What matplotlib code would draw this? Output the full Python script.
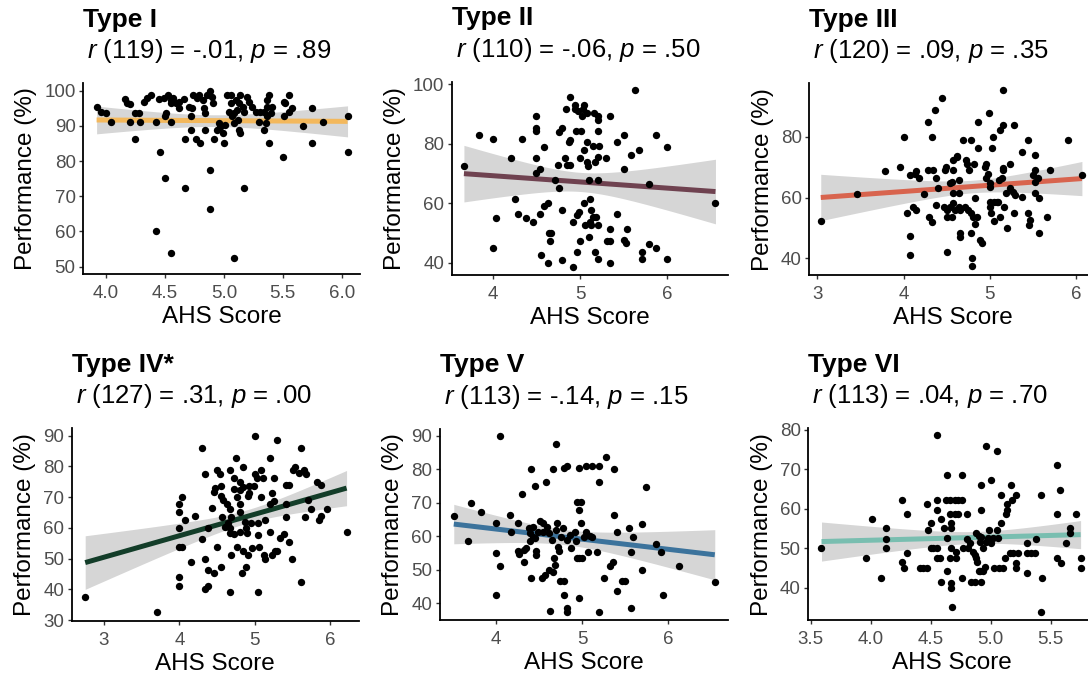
import numpy as np
import matplotlib
matplotlib.use("Agg")
import matplotlib.pyplot as plt

plt.rcParams["font.family"] = ["Liberation Sans", "DejaVu Sans"]
plt.rcParams["mathtext.fontset"] = "custom"
plt.rcParams["mathtext.it"] = "Liberation Sans:italic"
plt.rcParams["mathtext.rm"] = "Liberation Sans"

# ---------------- data ----------------
titles = ["Type I", "Type II", "Type III", "Type IV*", "Type V", "Type VI"]
df_values = [119, 110, 120, 127, 113, 113]
r_values = [-0.01, -0.06, 0.09, 0.31, -0.14, 0.04]
r_labels = ["-.01", "-.06", ".09", ".31", "-.14", ".04"]
p_labels = [".89", ".50", ".35", ".00", ".15", ".70"]
line_colors = ["#F3B85C", "#6F4250", "#D8644E", "#133D29", "#3C739C", "#79BEB0"]

x1 = [3.92, 3.96, 4.00, 4.04, 4.16, 4.18, 4.20, 4.20, 4.25, 4.25,
      4.28, 4.29, 4.32, 4.35, 4.38, 4.42, 4.42, 4.46, 4.45, 4.49,
      4.50, 4.51, 4.53, 4.55, 4.55, 4.55, 4.55, 4.57, 4.59, 4.50,
      4.62, 4.62, 4.66, 4.67, 4.67, 4.70, 4.72, 4.72, 4.73, 4.74,
      4.76, 4.77, 4.79, 4.80, 4.82, 4.83, 4.84, 4.84, 4.86, 4.88,
      4.88, 4.88, 4.90, 4.91, 4.92, 4.94, 4.96, 4.97, 4.99, 5.00,
      5.01, 5.03, 5.04, 5.06, 5.06, 5.07, 5.09, 5.09, 5.10, 5.09,
      5.11, 5.12, 5.13, 5.13, 5.14, 5.14, 5.16, 5.17, 5.17, 5.20,
      5.21, 5.24, 5.27, 5.30, 5.31, 5.34, 5.34, 5.36, 5.37, 5.37,
      5.38, 5.38, 5.40, 5.41, 5.37, 5.50, 5.51, 5.51, 5.52, 5.55,
      5.55, 5.58, 5.67, 5.75, 5.75, 5.84, 6.05, 6.05]
y1 = [95.3, 94.0, 93.8, 91.2, 97.5, 96.4, 96.1, 91.2, 93.6, 86.2,
      93.6, 91.2, 96.9, 97.8, 98.8, 91.2, 60.0, 82.7, 97.5, 97.8,
      92.7, 93.6, 98.8, 96.4, 97.3, 91.2, 53.8, 97.8, 96.4, 75.1,
      96.9, 95.0, 97.5, 86.2, 72.4, 95.5, 92.7, 88.8, 95.0, 98.8,
      86.2, 97.8, 98.8, 85.0, 97.3, 95.0, 93.6, 88.8, 98.8, 100.0,
      77.5, 66.3, 98.3, 96.4, 86.2, 88.8, 90.7, 89.8, 87.9, 85.0,
      90.2, 98.8, 94.0, 98.8, 96.4, 92.7, 93.6, 90.7, 97.3, 52.4,
      94.5, 91.7, 96.4, 88.8, 87.9, 98.8, 95.5, 94.0, 72.4, 98.3,
      96.9, 95.5, 94.0, 91.2, 94.0, 94.0, 88.8, 90.7, 97.3, 95.5,
      98.8, 85.0, 93.6, 95.5, 92.7, 81.2, 96.9, 92.7, 96.4, 98.8,
      94.0, 95.0, 90.0, 95.0, 85.0, 91.2, 92.7, 82.7]

x2 = [3.67, 3.84, 4.00, 4.00, 4.04, 4.21, 4.25, 4.29, 4.34, 4.38,
      4.46, 4.50, 4.50, 4.50, 4.50, 4.50, 4.54, 4.54, 4.55, 4.59,
      4.59, 4.63, 4.63, 4.64, 4.66, 4.67, 4.71, 4.75, 4.76, 4.76,
      4.79, 4.79, 4.79, 4.83, 4.84, 4.85, 4.87, 4.89, 4.89, 4.89,
      4.92, 4.92, 4.94, 4.94, 4.95, 4.96, 4.97, 4.98, 4.99, 5.00,
      5.00, 5.01, 5.02, 5.03, 5.04, 5.05, 5.05, 5.06, 5.08, 5.08,
      5.08, 5.09, 5.10, 5.10, 5.11, 5.11, 5.12, 5.13, 5.15, 5.15,
      5.16, 5.17, 5.17, 5.18, 5.20, 5.20, 5.21, 5.21, 5.21, 5.21,
      5.21, 5.22, 5.30, 5.31, 5.34, 5.34, 5.34, 5.34, 5.42, 5.42,
      5.50, 5.50, 5.50, 5.53, 5.54, 5.58, 5.63, 5.67, 5.71, 5.71,
      5.79, 5.79, 5.87, 5.87, 6.00, 6.00, 6.55]
y2 = [72.6, 82.8, 81.6, 44.8, 55.2, 75.2, 61.3, 56.4, 81.6, 55.2,
      53.8, 89.2, 85.3, 84.2, 75.2, 70.1, 71.5, 56.4, 42.6, 78.9,
      58.9, 60.2, 40.0, 50.1, 47.4, 50.1, 67.9, 72.7, 65.1, 83.8,
      85.3, 57.8, 41.1, 75.2, 91.7, 72.7, 80.4, 95.6, 81.3, 72.9,
      53.8, 38.7, 93.1, 91.5, 84.2, 56.1, 43.7, 90.9, 57.2, 75.2,
      47.4, 84.2, 89.2, 91.7, 60.0, 77.8, 93.1, 52.7, 90.3, 80.4,
      74.0, 72.6, 67.9, 48.8, 53.8, 61.3, 52.7, 57.8, 55.5, 79.1,
      90.3, 43.7, 74.0, 55.5, 89.2, 87.9, 84.2, 75.5, 67.9, 52.7,
      41.2, 79.1, 75.2, 47.4, 89.2, 51.2, 47.4, 40.0, 80.4, 56.4,
      82.8, 71.5, 47.6, 46.5, 51.2, 76.3, 98.0, 77.8, 43.7, 41.2,
      66.4, 46.3, 82.8, 44.8, 78.9, 41.2, 60.0]

x3 = [3.04, 3.46, 3.78, 3.96, 4.00, 4.04, 4.08, 4.08, 4.08, 4.11,
      4.13, 4.15, 4.15, 4.18, 4.24, 4.29, 4.29, 4.30, 4.33, 4.33,
      4.34, 4.36, 4.38, 4.38, 4.40, 4.45, 4.47, 4.48, 4.49, 4.50,
      4.50, 4.51, 4.54, 4.54, 4.56, 4.56, 4.57, 4.58, 4.58, 4.58,
      4.60, 4.62, 4.62, 4.64, 4.64, 4.64, 4.65, 4.65, 4.66, 4.69,
      4.71, 4.73, 4.74, 4.75, 4.76, 4.78, 4.78, 4.78, 4.79, 4.79,
      4.81, 4.82, 4.83, 4.83, 4.85, 4.87, 4.87, 4.89, 4.91, 4.94,
      4.96, 4.96, 4.98, 4.99, 5.00, 5.00, 5.00, 5.00, 5.01, 5.03,
      5.04, 5.05, 5.05, 5.08, 5.10, 5.11, 5.12, 5.12, 5.14, 5.15,
      5.16, 5.16, 5.16, 5.17, 5.19, 5.20, 5.24, 5.24, 5.27, 5.28,
      5.28, 5.29, 5.37, 5.37, 5.45, 5.45, 5.46, 5.47, 5.50, 5.52,
      5.52, 5.52, 5.52, 5.56, 5.57, 5.57, 5.70, 5.66, 5.91, 6.07]
y3 = [52.4, 61.0, 68.8, 70.1, 80.0, 54.8, 67.4, 47.3, 41.1, 57.0,
      67.7, 55.9, 68.8, 66.3, 61.2, 84.9, 69.0, 53.7, 52.1, 80.0,
      69.0, 88.8, 57.5, 66.3, 63.0, 92.6, 57.0, 69.0, 70.1, 42.2,
      55.9, 53.7, 64.7, 57.0, 65.2, 53.7, 69.0, 72.3, 58.1, 61.4,
      55.9, 73.2, 73.6, 65.8, 61.4, 57.0, 55.9, 48.2, 47.1, 78.9,
      57.0, 72.5, 71.2, 55.9, 69.0, 78.9, 54.8, 48.4, 40.0, 37.3,
      53.7, 71.2, 51.2, 59.7, 53.7, 76.2, 84.9, 46.0, 44.9, 70.1,
      71.2, 66.3, 67.9, 87.7, 64.7, 63.6, 58.6, 57.0, 54.8, 76.2,
      80.0, 58.6, 52.4, 58.6, 58.6, 65.8, 82.2, 53.7, 66.3, 69.0,
      95.3, 83.8, 69.6, 57.0, 61.4, 49.9, 71.2, 63.0, 61.9, 83.8,
      54.8, 60.8, 60.3, 75.1, 78.9, 54.8, 51.0, 52.6, 67.4, 74.0,
      69.0, 61.4, 65.2, 66.3, 48.2, 59.7, 69.0, 53.7, 78.9, 67.4]

x4 = [2.75, 3.71, 4.00, 4.00, 4.00, 4.00, 4.00, 4.00, 4.04, 4.04,
      4.08, 4.16, 4.21, 4.30, 4.30, 4.34, 4.34, 4.34, 4.38, 4.38,
      4.38, 4.43, 4.46, 4.46, 4.47, 4.50, 4.50, 4.54, 4.55, 4.55,
      4.55, 4.56, 4.58, 4.61, 4.63, 4.64, 4.67, 4.67, 4.67, 4.67,
      4.67, 4.68, 4.69, 4.72, 4.72, 4.73, 4.75, 4.76, 4.77, 4.80,
      4.80, 4.81, 4.81, 4.81, 4.83, 4.84, 4.85, 4.85, 4.87, 4.88,
      4.89, 4.90, 4.91, 4.91, 4.93, 4.93, 4.95, 4.96, 4.99, 5.00,
      5.00, 5.03, 5.04, 5.05, 5.05, 5.06, 5.08, 5.09, 5.11, 5.12,
      5.14, 5.14, 5.20, 5.20, 5.21, 5.23, 5.23, 5.25, 5.26, 5.27,
      5.29, 5.29, 5.34, 5.39, 5.42, 5.42, 5.42, 5.45, 5.46, 5.50,
      5.51, 5.54, 5.59, 5.62, 5.62, 5.65, 5.67, 5.68, 5.71, 5.75,
      5.83, 5.85, 5.88, 5.88, 5.96, 6.22]
y4 = [37.6, 32.7, 67.7, 65.1, 60.1, 53.9, 43.9, 41.2, 70.2, 53.9,
      62.6, 49.0, 63.9, 86.1, 56.4, 77.4, 49.9, 40.1, 41.2, 60.1,
      46.3, 66.4, 45.2, 71.6, 73.1, 53.9, 78.8, 77.4, 73.7, 47.4,
      70.5, 63.6, 69.1, 60.4, 67.7, 61.5, 78.8, 66.1, 59.8, 58.2,
      39.0, 51.2, 63.6, 76.3, 72.6, 57.9, 82.6, 53.9, 70.2, 75.0,
      67.7, 72.3, 58.8, 65.3, 45.2, 79.9, 73.4, 52.5, 62.0, 47.4,
      59.8, 58.2, 51.2, 70.5, 73.7, 71.2, 61.5, 53.3, 73.7, 77.4,
      90.0, 76.3, 61.5, 39.0, 57.7, 53.9, 70.2, 78.8, 76.3, 51.2,
      62.6, 49.9, 67.7, 58.8, 82.6, 71.2, 51.2, 68.7, 76.3, 52.5,
      52.5, 88.6, 56.6, 57.9, 67.7, 73.9, 63.6, 55.3, 73.9, 49.9,
      78.8, 79.9, 77.7, 86.1, 42.5, 78.8, 63.6, 77.4, 69.1, 66.1,
      75.0, 62.6, 73.9, 64.0, 66.1, 58.8]

x5 = [3.51, 3.67, 3.71, 3.83, 4.00, 4.00, 4.00, 4.05, 4.05, 4.16,
      4.17, 4.25, 4.25, 4.27, 4.30, 4.32, 4.32, 4.35, 4.38, 4.39,
      4.40, 4.41, 4.41, 4.43, 4.43, 4.45, 4.45, 4.46, 4.47, 4.49,
      4.51, 4.53, 4.54, 4.55, 4.57, 4.58, 4.59, 4.61, 4.62, 4.63,
      4.65, 4.66, 4.66, 4.67, 4.68, 4.70, 4.70, 4.71, 4.72, 4.73,
      4.74, 4.76, 4.78, 4.79, 4.79, 4.79, 4.82, 4.83, 4.83, 4.83,
      4.86, 4.87, 4.92, 4.93, 4.94, 4.96, 4.96, 4.96, 4.94, 4.96,
      4.99, 4.99, 5.00, 5.02, 5.04, 5.05, 5.07, 5.09, 5.11, 5.12,
      5.17, 5.20, 5.20, 5.20, 5.25, 5.28, 5.32, 5.36, 5.37, 5.37,
      5.41, 5.41, 5.46, 5.50, 5.54, 5.57, 5.57, 5.59, 5.70, 5.70,
      5.74, 5.86, 5.91, 5.94, 6.12, 6.54]
y5 = [66.1, 58.6, 69.8, 67.3, 63.9, 54.9, 42.5, 90.0, 51.2, 66.3,
      61.2, 63.9, 55.6, 54.6, 72.5, 55.9, 52.4, 56.4, 62.4, 60.9,
      58.6, 80.0, 47.5, 62.9, 59.9, 59.4, 75.1, 55.6, 54.4, 61.4,
      64.6, 47.5, 63.9, 61.2, 48.5, 76.3, 62.9, 60.9, 49.9, 37.7,
      58.9, 80.0, 49.4, 53.4, 51.4, 61.9, 87.4, 63.9, 56.9, 55.6,
      46.5, 59.9, 62.6, 46.5, 80.3, 42.5, 58.9, 81.1, 38.5, 37.5,
      60.4, 56.4, 61.2, 58.6, 70.1, 80.3, 41.5, 67.8, 53.6, 53.6,
      70.1, 63.9, 53.6, 59.9, 81.1, 61.4, 55.4, 60.2, 81.1, 59.9,
      55.4, 81.1, 76.1, 37.5, 47.5, 83.7, 51.2, 52.4, 80.0, 66.3,
      61.2, 43.7, 46.5, 46.5, 62.4, 38.7, 55.4, 59.9, 49.9, 63.6,
      74.8, 57.6, 55.2, 42.5, 51.2, 46.3]

x6 = [3.59, 3.96, 4.01, 4.09, 4.13, 4.13, 4.13, 4.26, 4.26, 4.28,
      4.30, 4.30, 4.41, 4.44, 4.47, 4.47, 4.48, 4.50, 4.50, 4.52,
      4.55, 4.55, 4.55, 4.55, 4.55, 4.58, 4.59, 4.59, 4.61, 4.63,
      4.64, 4.64, 4.64, 4.66, 4.66, 4.66, 4.67, 4.67, 4.67, 4.67,
      4.67, 4.68, 4.70, 4.70, 4.71, 4.71, 4.73, 4.73, 4.76, 4.76,
      4.76, 4.77, 4.80, 4.80, 4.81, 4.83, 4.84, 4.85, 4.87, 4.87,
      4.88, 4.88, 4.89, 4.90, 4.90, 4.91, 4.91, 4.92, 4.92, 4.92,
      4.92, 4.94, 4.95, 4.94, 4.96, 4.96, 4.98, 4.99, 5.00, 5.00,
      5.02, 5.03, 5.05, 5.05, 5.06, 5.07, 5.09, 5.09, 5.10, 5.12,
      5.13, 5.14, 5.14, 5.17, 5.16, 5.18, 5.19, 5.21, 5.21, 5.21,
      5.23, 5.30, 5.30, 5.30, 5.34, 5.37, 5.38, 5.42, 5.42, 5.43,
      5.55, 5.55, 5.55, 5.58, 5.59, 5.63, 5.66, 5.66, 5.71, 5.75,
      5.75]
y6 = [50.0, 47.4, 57.4, 42.4, 55.1, 52.3, 50.0, 62.2, 46.4, 45.1,
      58.6, 48.7, 45.1, 45.1, 45.1, 61.1, 54.6, 56.3, 50.0, 50.0,
      62.2, 59.7, 50.0, 47.4, 78.6, 47.4, 57.4, 41.5, 55.1, 62.2,
      68.6, 52.5, 44.1, 47.4, 62.2, 58.6, 56.3, 55.1, 50.0, 41.1,
      40.0, 35.2, 62.2, 58.6, 49.1, 47.4, 62.2, 58.6, 68.6, 62.2,
      42.5, 50.0, 58.6, 52.3, 50.0, 51.2, 41.5, 49.1, 41.5, 48.3,
      53.8, 47.4, 46.6, 44.1, 53.2, 51.7, 44.1, 41.5, 52.9, 59.7,
      66.0, 50.0, 45.3, 44.1, 51.7, 76.0, 52.5, 54.6, 51.2, 67.3,
      52.5, 45.1, 74.7, 54.6, 52.5, 45.1, 56.3, 63.5, 45.1, 47.4,
      58.6, 59.7, 61.1, 66.0, 48.7, 62.2, 48.7, 63.5, 46.2, 44.9,
      48.7, 51.2, 48.7, 43.6, 48.7, 48.7, 52.3, 63.5, 33.9, 42.4,
      71.0, 58.6, 47.4, 64.8, 46.2, 51.2, 55.1, 53.8, 58.6, 47.4,
      44.9]

xs = [x1, x2, x3, x4, x5, x6]
ys = [y1, y2, y3, y4, y5, y6]

x_ticks = [[4.0, 4.5, 5.0, 5.5, 6.0], [4, 5, 6], [3, 4, 5, 6],
           [3, 4, 5, 6], [4, 5, 6], [3.5, 4.0, 4.5, 5.0, 5.5]]
x_tick_labels = [["4.0", "4.5", "5.0", "5.5", "6.0"], ["4", "5", "6"],
                 ["3", "4", "5", "6"], ["3", "4", "5", "6"], ["4", "5", "6"],
                 ["3.5", "4.0", "4.5", "5.0", "5.5"]]
y_ticks = [[50, 60, 70, 80, 90, 100], [40, 60, 80, 100], [40, 60, 80],
           [30, 40, 50, 60, 70, 80, 90], [40, 50, 60, 70, 80, 90],
           [40, 50, 60, 70, 80]]

# ---------------- layout (pixels) ----------------
W, H = 1088, 676
boxes = [  # left, right, top, bottom
    (83.3, 360.5, 83.3, 274.0),
    (451.7, 727.7, 81.7, 275.0),
    (809.3, 1095.7, 83.3, 275.0),
    (71.7, 359.0, 428.3, 621.0),
    (440.0, 727.7, 429.0, 620.0),
    (808.3, 1095.0, 428.3, 620.0),
]
xlims = [(3.807, 6.16), (3.53, 6.69), (2.907, 6.23),
         (2.571, 6.385), (3.35, 6.69), (3.48, 5.87)]
ylims = [(47.9, 102.1), (35.9, 100.8), (34.5, 97.6),
         (29.7, 92.4), (35.0, 92.0), (31.8, 80.4)]


def t_quantile_975(df):
    z = 1.959964
    return (z + (z ** 3 + z) / (4 * df)
            + (5 * z ** 5 + 16 * z ** 3 + 3 * z) / (96 * df ** 2))


fig = plt.figure(figsize=(W / 100, H / 100), dpi=100)

for i in range(6):
    l, r, t, b = boxes[i]
    ax = fig.add_axes([l / W, 1 - b / H, (r - l) / W, (b - t) / H])
    x = np.asarray(xs[i], float)
    y = np.asarray(ys[i], float)
    n = len(x)
    mx, my = x.mean(), y.mean()
    slope = r_values[i] * y.std(ddof=1) / x.std(ddof=1)
    icpt = my - slope * mx
    resid = y - (icpt + slope * x)
    s = np.sqrt(np.sum(resid ** 2) / (n - 2))
    xg = np.linspace(x.min(), x.max(), 80)
    fit = icpt + slope * xg
    se = s * np.sqrt(1 / n + (xg - mx) ** 2 / np.sum((x - mx) ** 2))
    tq = t_quantile_975(n - 2)
    ax.fill_between(xg, fit - tq * se, fit + tq * se, color="#999999",
                    alpha=0.4, linewidth=0, zorder=1)
    ax.plot(xg, fit, color=line_colors[i], lw=3.6, solid_capstyle="butt",
            zorder=2)
    ax.scatter(x, y, s=28, color="black", linewidths=0, zorder=3)

    ax.set_xlim(*xlims[i])
    ax.set_ylim(*ylims[i])
    ax.set_xticks(x_ticks[i])
    ax.set_xticklabels(x_tick_labels[i])
    ax.set_yticks(y_ticks[i])
    for side in ("top", "right"):
        ax.spines[side].set_visible(False)
    for side in ("left", "bottom"):
        ax.spines[side].set_linewidth(1.3)
        ax.spines[side].set_color("black")
    ax.tick_params(axis="both", length=3, width=1.0, color="#333333",
                   labelsize=13.5, labelcolor="#4D4D4D")
    ax.tick_params(axis="x", pad=5)
    ax.tick_params(axis="y", pad=2.5)
    ax.set_xlabel("AHS Score", fontsize=17.5, labelpad=3)
    ax.set_ylabel("Performance (%)", fontsize=17.5, labelpad=5)

    fig.text(l / W, 1 - (t - 56.5) / H, titles[i], fontsize=19,
             fontweight="bold", ha="left", va="baseline")
    sub = (r"$\it{r}$" + f" ({df_values[i]}) = {r_labels[i]}, "
           + r"$\it{p}$" + f" = {p_labels[i]}")
    fig.text(l / W + 4 / W, 1 - (t - 25) / H, sub, fontsize=18.5,
             ha="left", va="baseline")

fig.savefig("out.png", dpi=100)
